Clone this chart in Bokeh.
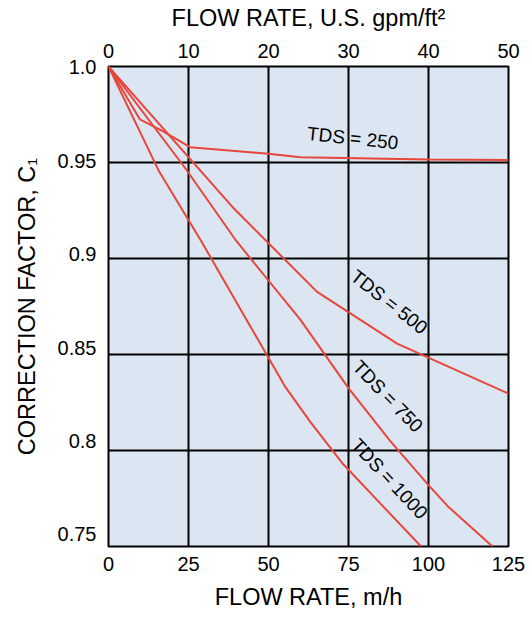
from bokeh.plotting import figure
from bokeh.models import Range1d, LinearAxis, FixedTicker, CustomJSTickFormatter
from bokeh.core.properties import value
from bokeh.embed import file_html
from bokeh.resources import INLINE

# ---- data ----
flow_ticks_mh = [0, 25, 50, 75, 100, 125]
flow_ticks_gpm = [0, 10, 20, 30, 40, 50]
c_ticks = [0.75, 0.8, 0.85, 0.9, 0.95, 1.0]
c_tick_labels = ["0.75", "0.8", "0.85", "0.9", "0.95", "1.0"]

tds250_flow = [0, 9.8, 16.8, 25.5, 50, 60, 100, 125]
tds250_c = [1.0, 0.9725, 0.9665, 0.958, 0.9545, 0.9527, 0.9516, 0.9513]
tds500_flow = [0, 39.2, 65.2, 90.2, 125]
tds500_c = [1.0, 0.926, 0.8826, 0.8557, 0.8296]
tds750_flow = [0, 24, 40, 60, 75, 88, 100, 106, 120]
tds750_c = [1.0, 0.947, 0.909, 0.868, 0.8325, 0.805, 0.782, 0.771, 0.750]
tds1000_flow = [0, 15.6, 29, 49.5, 55.3, 63, 73, 85, 97.7]
tds1000_c = [1.0, 0.946, 0.909, 0.8497, 0.833, 0.815, 0.7935, 0.7723, 0.75]

series_labels = ["TDS = 250", "TDS = 500", "TDS = 750", "TDS = 1000"]

# ---- layout constants ----
# label placement (annotation positions)
label_x = [76.3, 87.7, 87.3, 87.8]
label_y = [0.9627, 0.8774, 0.8282, 0.7853]
label_angle = [-6, -38, -46, -47]
# the original's y tick labels sit slightly above their grid lines
c_label_pos = [0.7563, 0.8047, 0.8535, 0.9022, 0.9510, 1.0]

FONT = "Liberation Sans"
RED = "#e8463a"

p = figure(width=532, height=637, output_backend="svg", toolbar_location=None,
           x_range=Range1d(0, 125), y_range=Range1d(0.75, 1.0),
           min_border_left=108, min_border_right=24, min_border_top=66,
           min_border_bottom=91, x_axis_location=None, y_axis_location=None)
p.background_fill_color = "#dce6f2"
p.border_fill_color = "white"
p.outline_line_color = "black"
p.outline_line_width = 2

p.extra_x_ranges = {"gpm": Range1d(0, 50)}


def style_axis(ax):
    ax.axis_line_color = None
    ax.major_tick_line_color = None
    ax.minor_tick_line_color = None
    ax.major_tick_out = 0
    ax.major_tick_in = 0
    ax.major_label_text_font = FONT
    ax.major_label_text_font_size = "20px"
    ax.major_label_text_color = "black"
    ax.axis_label_text_font = FONT
    ax.axis_label_text_font_size = "23.5px"
    ax.axis_label_text_font_style = "normal"
    ax.axis_label_text_color = "black"


bottom = LinearAxis(ticker=FixedTicker(ticks=flow_ticks_mh), axis_label="FLOW RATE, m/h")
style_axis(bottom)
bottom.major_label_standoff = 10
bottom.axis_label_standoff = 10
p.add_layout(bottom, "below")

top = LinearAxis(x_range_name="gpm", ticker=FixedTicker(ticks=flow_ticks_gpm),
                 axis_label="FLOW RATE, U.S. gpm/ft²")
style_axis(top)
top.major_label_standoff = 9
top.axis_label_standoff = 10
p.add_layout(top, "above")

left = LinearAxis(ticker=FixedTicker(ticks=c_label_pos), axis_label="CORRECTION FACTOR, C₁",
                  formatter=CustomJSTickFormatter(args=dict(cvals=c_label_pos, clabs=c_tick_labels), code="""
const i = cvals.findIndex(t => Math.abs(t - tick) < 1e-6);
return i >= 0 ? clabs[i] : '';
"""))
style_axis(left)
left.major_label_standoff = 12
left.axis_label_standoff = 15
p.add_layout(left, "left")

p.xgrid.ticker = FixedTicker(ticks=flow_ticks_mh)
p.ygrid.ticker = FixedTicker(ticks=c_ticks)
for g in (p.xgrid, p.ygrid):
    g.grid_line_color = "black"
    g.grid_line_width = 2
    g.grid_line_alpha = 1.0

for xs, ys in [(tds250_flow, tds250_c), (tds500_flow, tds500_c),
               (tds750_flow, tds750_c), (tds1000_flow, tds1000_c)]:
    p.line(xs, ys, line_color=RED, line_width=2)

p.text(x=label_x, y=label_y, text=series_labels, angle=label_angle, angle_units="deg",
       text_font=value(FONT), text_font_size="19px", text_color="black",
       text_align="center", text_baseline="middle")

open("out.html", "w").write(file_html(p, INLINE))
